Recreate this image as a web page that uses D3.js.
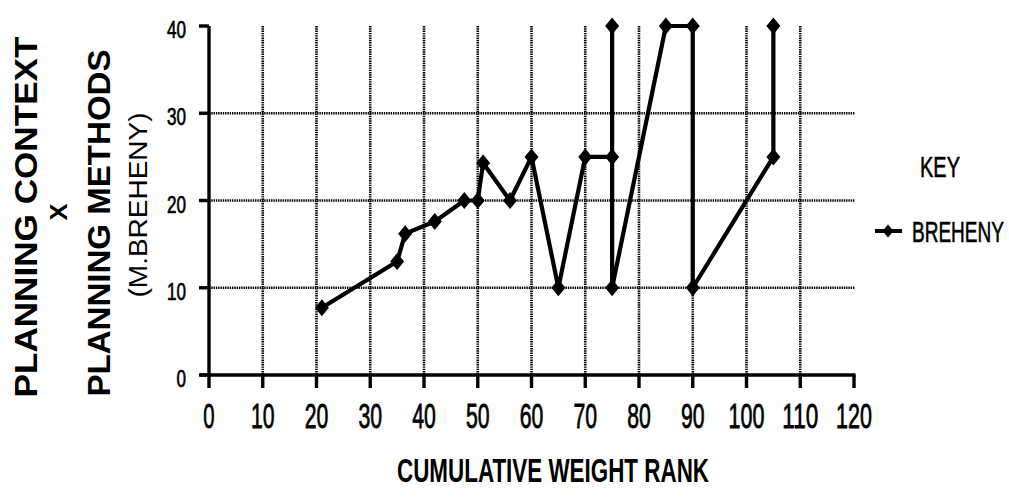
<!DOCTYPE html>
<html><head><meta charset="utf-8">
<script src="https://cdn.jsdelivr.net/npm/d3@7"></script>
<style>html,body{margin:0;padding:0;background:#fff;} svg{display:block;}</style>
</head><body>
<script>
// Breheny series: cumulative weight rank vs. planning context x methods score
const rankValues  = [21, 35, 36.5, 42, 47.5, 50, 51, 56, 60, 65, 70, 75, 75, 75, 85, 90, 90, 105, 105];
const scoreValues = [7.7, 13, 16.2, 17.6, 20, 20, 24.3, 20, 25, 10, 25, 25, 40, 10, 40, 40, 10, 25, 40];
const xTickValues = [0, 10, 20, 30, 40, 50, 60, 70, 80, 90, 100, 110, 120];
const yTickValues = [0, 10, 20, 30, 40];
const xGridValues = [10, 20, 30, 40, 50, 60, 70, 80, 90, 100, 110];
const yGridValues = [10, 20, 30];
const seriesName = "BREHENY";
const keyTitle = "KEY";
const xTitle = "CUMULATIVE WEIGHT RANK";
const yTitleLines = ["PLANNING CONTEXT", "X", "PLANNING METHODS", "(M.BREHENY)"];

const W = 1009, H = 497;
const narrow = "'Liberation Sans Narrow', 'Arial Narrow', 'Liberation Sans', Arial, sans-serif";
const wide = "'Liberation Sans', Arial, Helvetica, sans-serif";

const svg = d3.select("body").append("svg").attr("width", W).attr("height", H)
  .style("background", "#fff");

const x = d3.scaleLinear().domain([0, 120]).range([209, 854]);
const y = d3.scaleLinear().domain([0, 40]).range([375, 26]);

// dotted grid
const grid = svg.append("g").attr("stroke", "#000").attr("stroke-width", 2.6)
  .attr("stroke-dasharray", "1.4 0.9");
grid.selectAll("line.v").data(xGridValues).join("line").attr("class", "v")
  .attr("x1", d => x(d)).attr("x2", d => x(d)).attr("y1", y(40)).attr("y2", y(0));
grid.selectAll("line.h").data(yGridValues).join("line").attr("class", "h")
  .attr("x1", x(0)).attr("x2", x(120) + 1).attr("y1", d => y(d)).attr("y2", d => y(d));

// axes
const axes = svg.append("g").attr("stroke", "#000").attr("stroke-width", 3.4).attr("fill", "none");
axes.append("line").attr("x1", x(0)).attr("x2", x(0)).attr("y1", y(40)).attr("y2", y(0) + 13);
axes.append("line").attr("x1", x(0) - 9).attr("x2", x(120) + 1.5).attr("y1", y(0)).attr("y2", y(0));
axes.selectAll("line.yt").data(yTickValues).join("line").attr("class", "yt")
  .attr("x1", x(0) - 10).attr("x2", x(0)).attr("y1", d => y(d)).attr("y2", d => y(d));
axes.selectAll("line.xt").data(xTickValues.slice(1)).join("line").attr("class", "xt")
  .attr("x1", d => x(d)).attr("x2", d => x(d)).attr("y1", y(0)).attr("y2", y(0) + 13);

// tick labels
svg.append("g").selectAll("text").data(yTickValues).join("text")
  .attr("x", x(0) - 23).attr("y", d => y(d) + 12)
  .attr("text-anchor", "end").attr("font-family", narrow).attr("font-size", 24)
  .attr("stroke", "#000").attr("stroke-width", 0.7)
  .attr("textLength", d => String(d).length * 9.5).attr("lengthAdjust", "spacingAndGlyphs")
  .text(d => d);
svg.append("g").selectAll("text").data(xTickValues).join("text")
  .attr("x", d => x(d)).attr("y", y(0) + 53)
  .attr("text-anchor", "middle").attr("font-family", narrow).attr("font-size", 35)
  .attr("stroke", "#000").attr("stroke-width", 0.8)
  .attr("textLength", d => String(d).length * 12.3 - 1).attr("lengthAdjust", "spacingAndGlyphs")
  .text(d => d);

// series line and diamond markers
const pts = rankValues.map((r, i) => [r, scoreValues[i]]);
svg.append("path").datum(pts)
  .attr("d", d3.line().x(d => x(d[0])).y(d => y(d[1])))
  .attr("fill", "none").attr("stroke", "#000").attr("stroke-width", 4.2)
  .attr("stroke-linejoin", "round");
const diamond = "M0,-8.5L7,0L0,8.5L-7,0Z";
svg.append("g").selectAll("path").data(pts).join("path")
  .attr("transform", d => `translate(${x(d[0])},${y(d[1])})`)
  .attr("d", diamond).attr("fill", "#000");

// axis titles
svg.append("text").attr("x", 553).attr("y", 482).attr("text-anchor", "middle")
  .attr("font-family", narrow).attr("font-weight", "bold").attr("font-size", 33)
  .attr("textLength", 312).attr("lengthAdjust", "spacingAndGlyphs").text(xTitle);

const yTitles = [
  {t: yTitleLines[0], bx: 37, cy: 217, fs: 31, len: 361, bold: true},
  {t: yTitleLines[1], bx: 67, cy: 212, fs: 24, len: 17, bold: true},
  {t: yTitleLines[2], bx: 110, cy: 223, fs: 31, len: 347, bold: true},
  {t: yTitleLines[3], bx: 147, cy: 205, fs: 26, len: 185, bold: false}
];
svg.append("g").selectAll("text").data(yTitles).join("text")
  .attr("transform", d => `translate(${d.bx},${d.cy}) rotate(-90)`)
  .attr("text-anchor", "middle").attr("font-family", wide)
  .attr("font-weight", d => d.bold ? "bold" : "normal").attr("font-size", d => d.fs)
  .attr("textLength", d => d.len).attr("lengthAdjust", "spacingAndGlyphs")
  .text(d => d.t);

// key (tall condensed lettering: small size stretched vertically)
svg.append("text").attr("transform", "translate(940,177) scale(1,1.5)")
  .attr("text-anchor", "middle").attr("font-family", narrow).attr("font-size", 20)
  .attr("stroke", "#000").attr("stroke-width", 0.4)
  .attr("textLength", 40).attr("lengthAdjust", "spacingAndGlyphs").text(keyTitle);
svg.append("line").attr("x1", 875).attr("x2", 902).attr("y1", 231).attr("y2", 231)
  .attr("stroke", "#000").attr("stroke-width", 4);
svg.append("path").attr("transform", "translate(888,231)")
  .attr("d", "M0,-6.5L5.5,0L0,6.5L-5.5,0Z").attr("fill", "#000");
svg.append("text").attr("transform", "translate(912,242) scale(1,1.5)")
  .attr("font-family", narrow).attr("font-size", 20)
  .attr("stroke", "#000").attr("stroke-width", 0.4)
  .attr("textLength", 92).attr("lengthAdjust", "spacingAndGlyphs").text(seriesName);
</script>
</body></html>
